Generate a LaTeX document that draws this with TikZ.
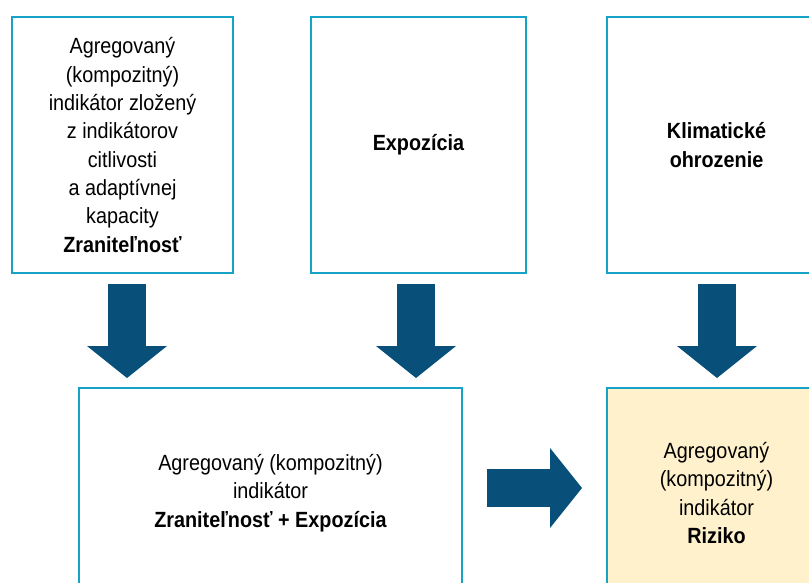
\documentclass[tikz,border=0pt]{standalone}
\usepackage{fontspec}
\setmainfont{Liberation Sans}[FakeStretch=0.9]
\usetikzlibrary{arrows.meta,calc}
\definecolor{boxline}{RGB}{23,163,199}
\definecolor{arrowblue}{RGB}{8,80,121}
\definecolor{riskfill}{RGB}{255,241,204}
\begin{document}
\begin{tikzpicture}[x=1pt,y=-1pt,
  box/.style={draw=boxline, line width=2.8pt, fill=white, inner sep=0pt, outer sep=0pt,
    align=center, font=\fontsize{22}{28.3}\selectfont},
  bigarrow/.style={draw=arrowblue, line width=38pt,
    -{Triangle[length=32pt,width=80pt,line width=0pt]}}]
\clip (0,0) rectangle (809,583);
\fill[white] (0,0) rectangle (809,583);

% top row
\node[box, minimum width=221pt, minimum height=256pt] (a) at (122.5,145)
  {Agregovaný\\(kompozitný)\\indikátor zložený\\z indikátorov\\citlivosti\\a adaptívnej\\kapacity\\\textbf{Zraniteľnosť}};
\node[box, minimum width=215pt, minimum height=256pt] (b) at (418.5,145)
  {\textbf{Expozícia}};
\node[box, minimum width=219pt, minimum height=256pt] (c) at (716.5,145)
  {\textbf{Klimatické}\\\textbf{ohrozenie}};

% bottom row
\node[box, minimum width=383pt, minimum height=210pt] (ab) at (270.5,493)
  {Agregovaný (kompozitný)\\indikátor\\\textbf{Zraniteľnosť + Expozícia}};
\node[box, fill=riskfill, minimum width=219pt, minimum height=210pt] (r) at (716.5,493)
  {Agregovaný\\(kompozitný)\\indikátor\\\textbf{Riziko}};

% block arrows
\draw[bigarrow] ($(a.south)+(4.5,11)$) -- ($(a.south |- ab.north)+(4.5,-10)$);
\draw[bigarrow] ($(b.south)+(-2.5,11)$) -- ($(b.south |- ab.north)+(-2.5,-10)$);
\draw[bigarrow] ($(c.south)+(0.5,11)$) -- ($(c.south |- r.north)+(0.5,-10)$);
\draw[bigarrow] ($(ab.east)+(25,-5)$) -- ($(r.west)+(-25,-5)$);
\end{tikzpicture}
\end{document}
